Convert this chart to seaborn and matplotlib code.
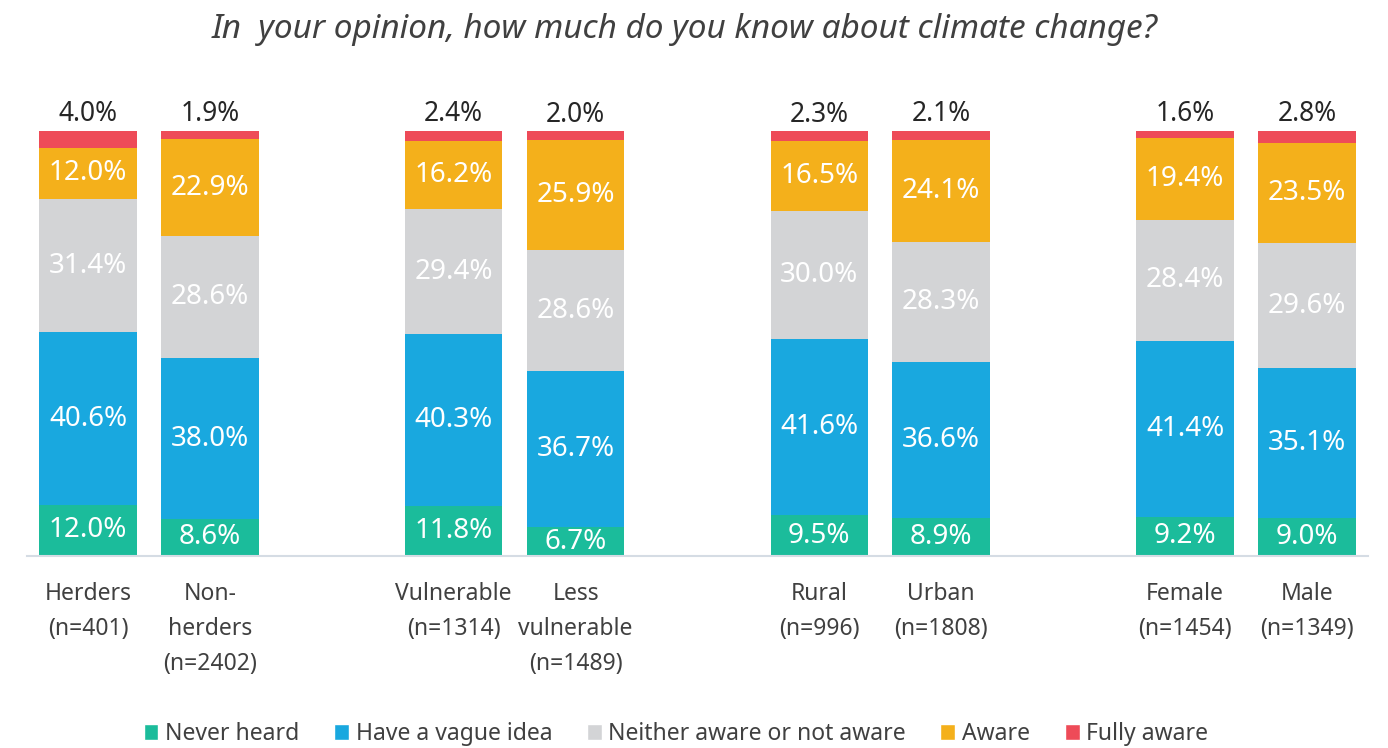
import matplotlib
matplotlib.use("Agg")
import matplotlib.pyplot as plt
from matplotlib.patches import Patch
import seaborn as sns
import numpy as np
import pandas as pd

groups = ["Herders\n(n=401)", "Non-\nherders\n(n=2402)",
          "Vulnerable\n(n=1314)", "Less\nvulnerable\n(n=1489)",
          "Rural\n(n=996)", "Urban\n(n=1808)",
          "Female\n(n=1454)", "Male\n(n=1349)"]
positions = [0, 1, 3, 4, 6, 7, 9, 10]

never_heard = [12.0, 8.6, 11.8, 6.7, 9.5, 8.9, 9.2, 9.0]
vague_idea = [40.6, 38.0, 40.3, 36.7, 41.6, 36.6, 41.4, 35.1]
neither = [31.4, 28.6, 29.4, 28.6, 30.0, 28.3, 28.4, 29.6]
aware = [12.0, 22.9, 16.2, 25.9, 16.5, 24.1, 19.4, 23.5]
fully_aware = [4.0, 1.9, 2.4, 2.0, 2.3, 2.1, 1.6, 2.8]

series = ["Never heard", "Have a vague idea", "Neither aware or not aware",
          "Aware", "Fully aware"]
colors = ["#1bbc9b", "#19a8df", "#d3d4d6", "#f4b01b", "#ee4b58"]

sns.set_style("white")
plt.rcParams['font.family'] = ['Noto Sans', 'DejaVu Sans']

values = np.array([never_heard, vague_idea, neither, aware, fully_aware])
cum = values.cumsum(axis=0)

fig = plt.figure(figsize=(13.88, 7.48), dpi=100)
ax = fig.add_axes([0.0195, 0.257, 0.966, 0.568])

# draw stacked bars from the top layer down
for i in range(len(series) - 1, -1, -1):
    df = pd.DataFrame({"x": positions, "y": cum[i]})
    sns.barplot(data=df, x="x", y="y", color=colors[i], native_scale=True,
                width=0.8, saturation=1, errorbar=None, ax=ax, linewidth=0)

# labels
for i in range(len(series) - 1):
    for j, p in enumerate(positions):
        mid = cum[i][j] - values[i][j] / 2
        ax.text(p, mid, f"{values[i][j]:.1f}%", ha="center", va="center",
                color="white", fontsize=20)
for j, p in enumerate(positions):
    ax.text(p, cum[-1][j] + 0.6, f"{fully_aware[j]:.1f}%", ha="center",
            va="bottom", color="#262626", fontsize=19)

ax.set_xlim(-0.5, 10.5)
ax.set_ylim(0, 100)
ax.set_xticks(positions)
ax.set_xticklabels(groups, fontsize=16.5, color="#404040", linespacing=1.62)
ax.tick_params(axis="x", length=0, pad=19)
ax.set_yticks([])
ax.set_xlabel("")
ax.set_ylabel("")
for s in ["top", "right", "left"]:
    ax.spines[s].set_visible(False)
ax.spines["bottom"].set_color("#d5dce4")
ax.spines["bottom"].set_linewidth(1.5)

fig.suptitle("In  your opinion, how much do you know about climate change?",
             x=0.493, y=0.982, fontsize=24, style="italic", color="#404040")

handles = [Patch(facecolor=c, label=s) for c, s in zip(colors, series)]
fig.legend(handles=handles, loc="lower center", bbox_to_anchor=(0.487, -0.025),
           ncol=5, frameon=False, fontsize=16.5, handlelength=0.65,
           handleheight=0.65, handletextpad=0.3, columnspacing=1.5,
           labelcolor="#404040")

fig.savefig("out.png", dpi=100)
